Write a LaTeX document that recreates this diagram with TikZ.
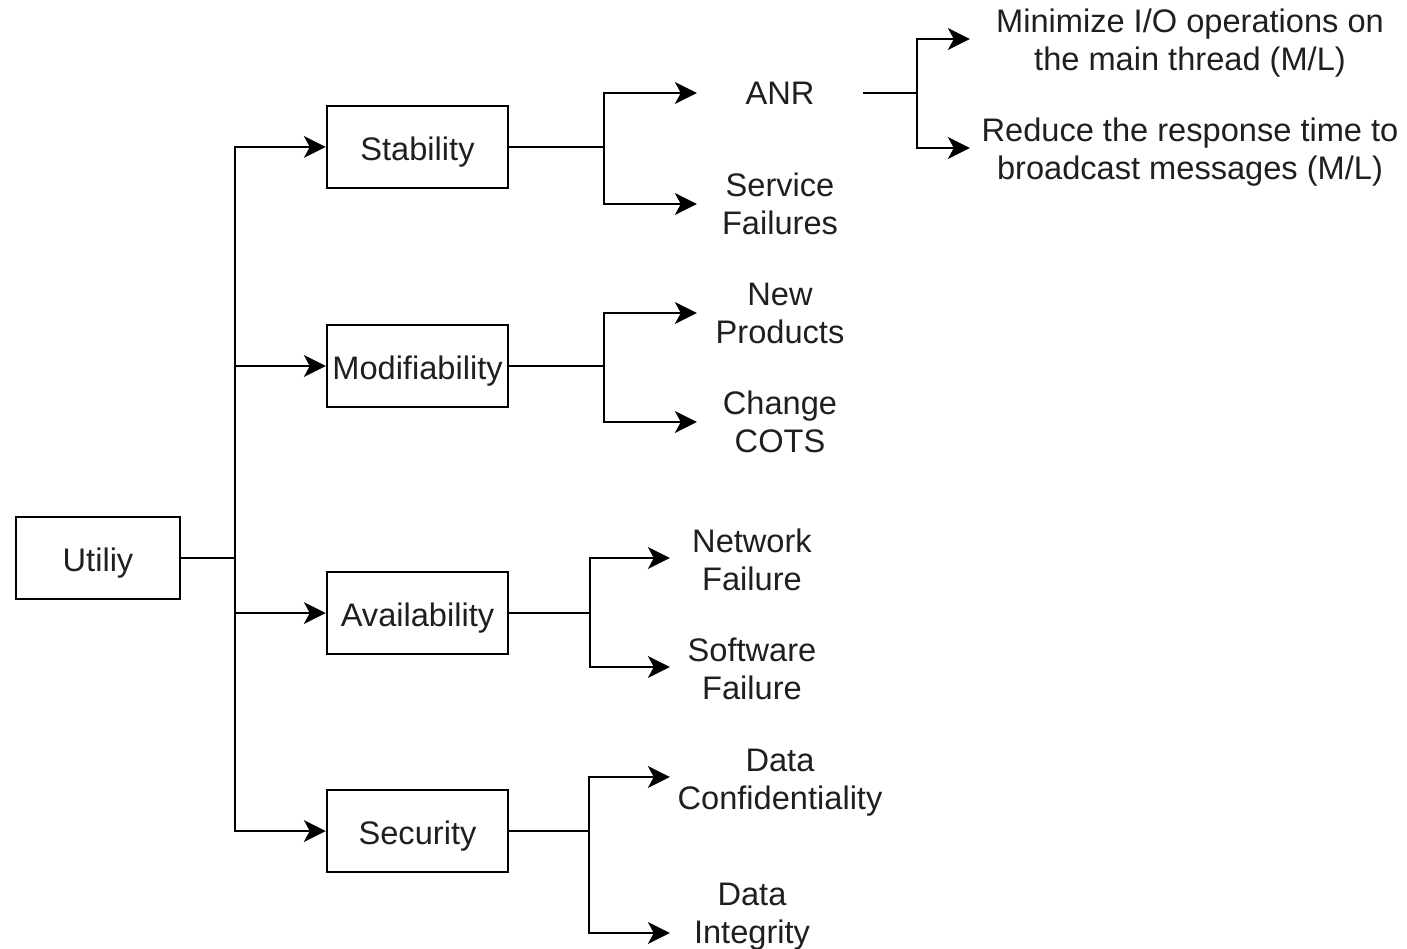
\documentclass[tikz,border=0pt]{standalone}
\usepackage{fontspec}
\setmainfont{Liberation Sans}
\usetikzlibrary{arrows.meta}
\begin{document}
\begin{tikzpicture}[x=1pt,y=-1pt,
  every node/.style={font=\fontsize{32.6}{38}\selectfont, inner sep=0pt, align=center, text=black!88},
  box/.style={draw=black, line width=2.5pt, minimum width=181pt, minimum height=82pt,
    text height=27.4pt, text depth=0pt},
  leaf/.style={minimum height=40pt},
  link/.style={line width=2.5pt, draw=black},
  arr/.style={link, -{Stealth[length=22pt,width=22pt,inset=6pt,fill=black,line width=0pt]}}]
\useasboundingbox (0,0) rectangle (1407,949);

% root and quality attributes
\node[box, minimum width=164pt] (util) at (98,558) {Utiliy};
\node[box] (stab)  at (417.5,147) {Stability};
\node[box] (mod)   at (417.5,366) {Modifiability};
\node[box] (avail) at (417.5,613) {Availability};
\node[box] (sec)   at (417.5,831) {Security};

% refinements
\node[leaf, minimum width=166pt] (anr)  at (780,93)  {ANR};
\node[leaf, minimum width=166pt] (svc)  at (780,204) {Service\\Failures};
\node[leaf, minimum width=440pt] (mini) at (1190,43) {Minimize I/O operations on\\the main thread (M/L)};
\node[leaf, minimum width=440pt] (resp) at (1190,152) {Reduce the response time to\\broadcast messages (M/L)};
\node[leaf, minimum width=166pt] (newp) at (780,313) {New\\Products};
\node[leaf, minimum width=166pt] (cots) at (780,422) {Change\\COTS};
\node[leaf, minimum width=164pt] (net)  at (752,560) {Network\\Failure};
\node[leaf, minimum width=164pt] (soft) at (752,669) {Software\\Failure};
\node[leaf, minimum width=220pt] (conf) at (780,783) {Data\\Confidentiality};
\node[leaf, minimum width=164pt] (integ) at (752,917) {Data\\Integrity};

% junction points
\coordinate (trunk) at (235,558);
\coordinate (sj)    at (604,147);
\coordinate (aj)    at (917,93);
\coordinate (mj)    at (604,366);
\coordinate (vj)    at (590,613);
\coordinate (ej)    at (589,831);

% connectors
\draw[link] (util.east) -- (trunk);
\draw[arr] (trunk) |- (stab.west);
\draw[arr] (trunk) |- (mod.west);
\draw[arr] (trunk) |- (avail.west);
\draw[arr] (trunk) |- (sec.west);

\draw[link] (stab.east) -- (sj);
\draw[arr] (sj) |- (anr.west);
\draw[arr] (sj) |- (svc.west);

\draw[link] (anr.east) -- (aj);
\draw[arr] (aj) |- ([yshift=4pt]mini.west);
\draw[arr] (aj) |- ([yshift=4pt]resp.west);

\draw[link] (mod.east) -- (mj);
\draw[arr] (mj) |- (newp.west);
\draw[arr] (mj) |- (cots.west);

\draw[link] (avail.east) -- (vj);
\draw[arr] (vj) |- ([yshift=2pt]net.west);
\draw[arr] (vj) |- ([yshift=2pt]soft.west);

\draw[link] (sec.east) -- (ej);
\draw[arr] (ej) |- ([yshift=6pt]conf.west);
\draw[arr] (ej) |- ([yshift=-16pt]integ.west);
\end{tikzpicture}
\end{document}
